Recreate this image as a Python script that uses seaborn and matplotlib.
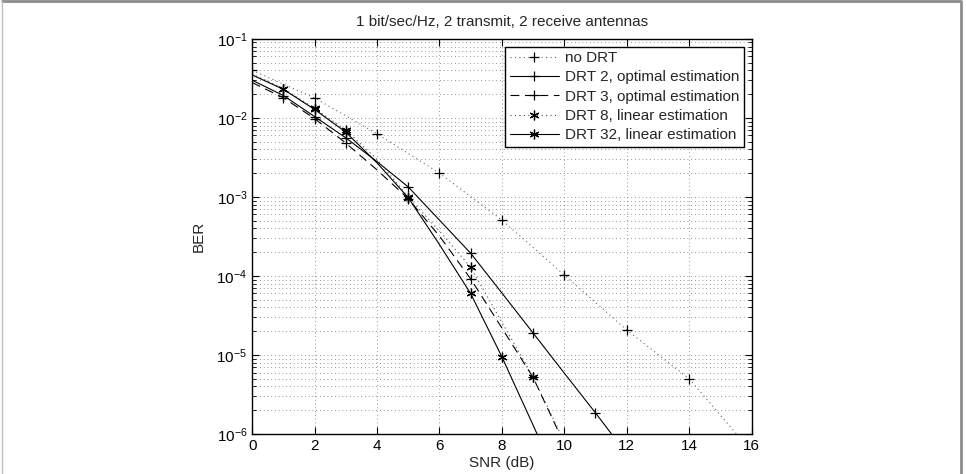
import numpy as np
import pandas as pd
import seaborn as sns
import matplotlib.pyplot as plt
from matplotlib.lines import Line2D

# data (BER vs SNR)
snr_nodrt = [0, 2, 4, 6, 8, 10, 12, 14, 16]
ber_nodrt = [4.0e-2, 1.79e-2, 6.3e-3, 2.0e-3, 5.1e-4, 1.03e-4, 2.07e-5, 5.0e-6, 6.0e-7]

snr_drt = [0, 1, 2, 3, 4, 5, 6, 7, 8, 9, 10, 11, 12]
ber_drt2 = [3.0e-2, 1.92e-2, 1.04e-2, 5.6e-3, 2.8e-3, 1.34e-3, 5.1e-4, 1.94e-4, 6.1e-5, 1.9e-5, 5.9e-6, 1.85e-6, 5.6e-7]
ber_drt3 = [2.8e-2, 1.8e-2, 9.8e-3, 4.8e-3, 2.2e-3, 9.5e-4, 3.2e-4, 9.2e-5, 2.2e-5, 5.2e-6, 7.5e-7, 1e-7, 1e-8]
ber_drt8 = [3.6e-2, 2.35e-2, 1.32e-2, 7.0e-3, 3.0e-3, 1.0e-3, 3.7e-4, 1.29e-4, 2.6e-5, 5.3e-6, 8.0e-7, 1e-7, 1e-8]
ber_drt32 = [3.5e-2, 2.3e-2, 1.28e-2, 6.6e-3, 2.7e-3, 9.8e-4, 2.5e-4, 6.0e-5, 9.5e-6, 1.3e-6, 1.7e-7, 2e-8, 2e-9]

# which points carry a marker
mark_drt2 = [1, 2, 3, 5, 7, 9, 11]
mark_drt3 = [1, 2, 3, 5, 7, 9]
mark_drt8 = [1, 2, 3, 5, 7, 9]
mark_drt32 = [1, 2, 3, 5, 7, 8]

labels = ["no DRT", "DRT 2, optimal estimation", "DRT 3, optimal estimation",
          "DRT 8, linear estimation", "DRT 32, linear estimation"]

sns.set_style("ticks")
plt.rcParams['font.family'] = ['Liberation Sans', 'DejaVu Sans']
plt.rcParams['mathtext.fontset'] = 'custom'
plt.rcParams['mathtext.rm'] = 'Liberation Sans'
plt.rcParams['mathtext.it'] = 'Liberation Sans'

fig = plt.figure(figsize=(9.66, 4.74), dpi=100)
ax = fig.add_axes([0.261, 0.0844, 0.517, 0.8336])

asterisk = (6, 2, 0)
series = [
    (snr_nodrt, ber_nodrt, (0, (1, 3)), '+', list(range(len(snr_nodrt))), '0.4'),
    (snr_drt, ber_drt2, '-', '+', mark_drt2, 'black'),
    (snr_drt, ber_drt3, (0, (8, 5)), '+', mark_drt3, 'black'),
    (snr_drt, ber_drt8, (0, (1, 3)), asterisk, mark_drt8, '0.3'),
    (snr_drt, ber_drt32, '-', asterisk, mark_drt32, 'black'),
]

handles = []
for (xs, ys, ls, mk, every, col), lab in zip(series, labels):
    df = pd.DataFrame({'SNR': xs, 'BER': ys})
    sns.lineplot(data=df, x='SNR', y='BER', ax=ax, color=col, linestyle=ls,
                 linewidth=0.8, marker=mk, markevery=every, markersize=7,
                 markeredgewidth=0.9, markeredgecolor='black', legend=False)
    handles.append(Line2D([], [], color=col, linestyle=ls, linewidth=0.8,
                          marker=mk, markersize=7, markeredgewidth=0.9,
                          markeredgecolor='black'))

ax.set_yscale('log')
ax.set_xlim(0, 16)
ax.set_ylim(1e-6, 1e-1)
ax.set_xticks(np.arange(0, 17, 2))

ax.grid(True, which='major', axis='both', linestyle=(0, (1, 3.5)), color='0.45', linewidth=0.6)
ax.grid(True, which='minor', axis='y', linestyle=(0, (1, 3.5)), color='0.45', linewidth=0.6)

ax.tick_params(which='both', direction='in', top=True, right=True, labelsize=11, colors='black')
ax.tick_params(which='major', length=5, width=0.8)
ax.tick_params(which='minor', length=3, width=0.6)
for sp in ax.spines.values():
    sp.set_linewidth(1.0)
    sp.set_color('black')

ax.set_xlabel("SNR (dB)", fontsize=11, labelpad=2)
ax.set_ylabel("BER", fontsize=11, labelpad=8)
ax.set_title("1 bit/sec/Hz, 2 transmit, 2 receive antennas", fontsize=11, pad=9)

leg = ax.legend(handles, labels, loc='upper right', fontsize=11, frameon=True,
                fancybox=False, framealpha=1, edgecolor='black', handlelength=3.2,
                borderaxespad=0.5, labelspacing=0.35, borderpad=0.3, handletextpad=0.4)
leg.get_frame().set_linewidth(1.0)

# thin grey frame round the whole picture
fig.add_artist(Line2D([0.002, 0.995, 0.995], [0.997, 0.997, 0.0], transform=fig.transFigure,
                      color='0.55', linewidth=2))
fig.add_artist(Line2D([0.002, 0.002], [0.0, 0.997], transform=fig.transFigure,
                      color='0.75', linewidth=1))

fig.savefig("out.png", dpi=100)
